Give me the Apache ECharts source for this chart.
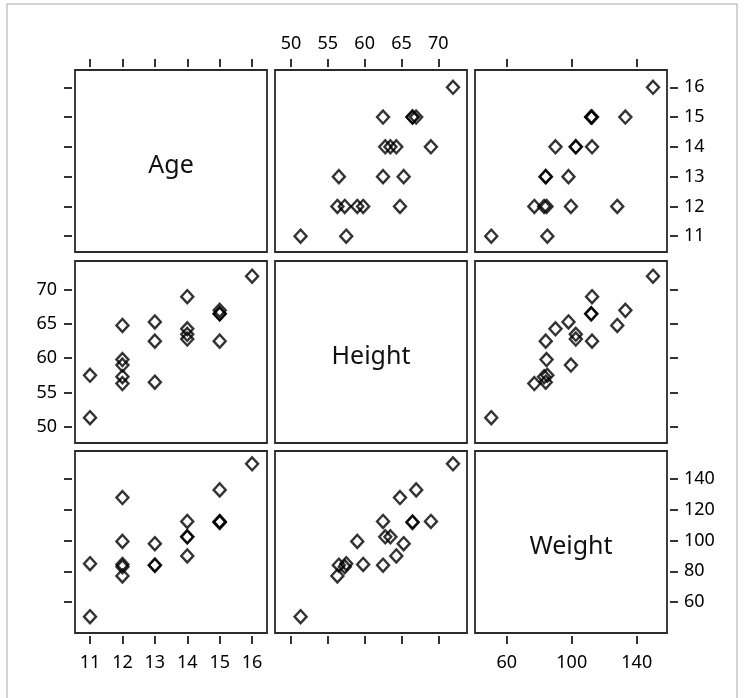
<!doctype html>
<html>
<head>
<meta charset="utf-8"/>
<title>scatter matrix</title>
<script src="https://cdn.jsdelivr.net/npm/echarts@6/dist/echarts.min.js"></script>
<style>
*{margin:0;padding:0;}
body{background:#fff;}
#main{width:747px;height:698px;}
</style>
</head>
<body>
<div id="main"></div>
<script type="text/javascript">

// the three variables, one value per student
var names  = ['Age', 'Height', 'Weight'];
var age    = [14, 13, 13, 14, 14, 12, 12, 15, 13, 12, 11, 14, 12, 15, 16, 12, 15, 11, 15];
var height = [69.0, 56.5, 65.3, 62.8, 63.5, 57.3, 59.8, 62.5, 62.5, 59.0, 51.3, 64.3, 56.3, 66.5, 72.0, 64.8, 67.0, 57.5, 66.5];
var weight = [112.5, 84.0, 98.0, 102.5, 102.5, 83.0, 84.5, 112.5, 84.0, 99.5, 50.5, 90.0, 77.0, 112.0, 150.0, 128.0, 133.0, 85.0, 112.0];

// tick values of each variable, for x (columns) and y (rows)
var xTicks = [[11, 12, 13, 14, 15, 16], [50, 55, 60, 65, 70], [60, 100, 140]];
var yTicks = [[11, 12, 13, 14, 15, 16], [50, 55, 60, 65, 70], [60, 80, 100, 120, 140]];

var vars = [age, height, weight];
// axis extents (with padding)
var xRange = [[10.537, 16.46], [47.83, 73.9], [40.5, 158.6]];
var yRange = [[10.47, 16.58], [47.6, 74.22], [39.9, 158.3]];

var colLeft = [75, 275, 475];
var rowTop  = [70, 261, 451];
var cellW = 192, cellH = 182;

var FONT = 'Noto Sans';

var chartDom = document.getElementById('main');
var myChart = echarts.init(chartDom, null, {renderer: 'canvas'});

var grids = [], xAxes = [], yAxes = [], series = [], graphics = [];

graphics.push({
    type: 'rect',
    shape: {x: 7, y: 4, width: 730, height: 720},
    style: {fill: 'none', stroke: '#a8a8a8', lineWidth: 1},
    z: -1
});

for (var r = 0; r < 3; r++) {
    for (var c = 0; c < 3; c++) {
        var idx = grids.length;
        grids.push({
            left: colLeft[c], top: rowTop[r], width: cellW, height: cellH,
            show: true, borderColor: '#2a2a2a', borderWidth: 1.8, backgroundColor: '#fff'
        });

        // x axis: ticks on top for first row, at bottom for last row
        var xShow = (r === 0 || r === 2);
        var xLabels = (r === 0 && c === 1) || (r === 2 && c !== 1);
        xAxes.push({
            type: 'value', gridIndex: idx,
            min: xRange[c][0], max: xRange[c][1],
            position: r === 0 ? 'top' : 'bottom',
            offset: 3,
            show: xShow,
            splitLine: {show: false},
            axisLine: {show: false},
            axisTick: {show: true, length: 8, customValues: xTicks[c],
                lineStyle: {color: '#000', width: 1.6}},
            axisLabel: {show: xLabels, customValues: xTicks[c],
                margin: r === 0 ? 14 : 18,
                color: '#000', fontFamily: FONT, fontSize: 18}
        });

        // y axis: ticks left for first column, right for last column
        var yShow = (c === 0 || c === 2);
        var yLabels = (c === 0 && r === 1) || (c === 2 && r !== 1);
        yAxes.push({
            type: 'value', gridIndex: idx,
            min: yRange[r][0], max: yRange[r][1],
            position: c === 0 ? 'left' : 'right',
            offset: 3,
            show: yShow,
            splitLine: {show: false},
            axisLine: {show: false},
            axisTick: {show: true, length: 8, customValues: yTicks[r],
                lineStyle: {color: '#000', width: 1.6}},
            axisLabel: {show: yLabels, customValues: yTicks[r],
                margin: c === 0 ? 15 : 14,
                color: '#000', fontFamily: FONT, fontSize: 18}
        });

        if (r === c) {
            graphics.push({
                type: 'text',
                x: colLeft[c] + cellW / 2,
                y: rowTop[r] + cellH / 2 + 5,
                style: {text: names[r], fill: '#111', font: '25px "' + FONT + '"',
                    align: 'center', verticalAlign: 'middle'},
                z: 10
            });
        } else {
            var pts = vars[c].map(function (v, i) { return [v, vars[r][i]]; });
            series.push({
                type: 'scatter',
                xAxisIndex: idx, yAxisIndex: idx,
                symbol: 'diamond',
                symbolSize: [12, 13],
                itemStyle: {color: 'rgba(0,0,0,0)', borderColor: '#000', borderWidth: 2.4},
                emphasis: {disabled: true},
                data: pts
            });
        }
    }
}

var option = {
    animation: false,
    grid: grids,
    xAxis: xAxes,
    yAxis: yAxes,
    series: series,
    graphic: graphics
};

option && myChart.setOption(option);

</script>
</body>
</html>
